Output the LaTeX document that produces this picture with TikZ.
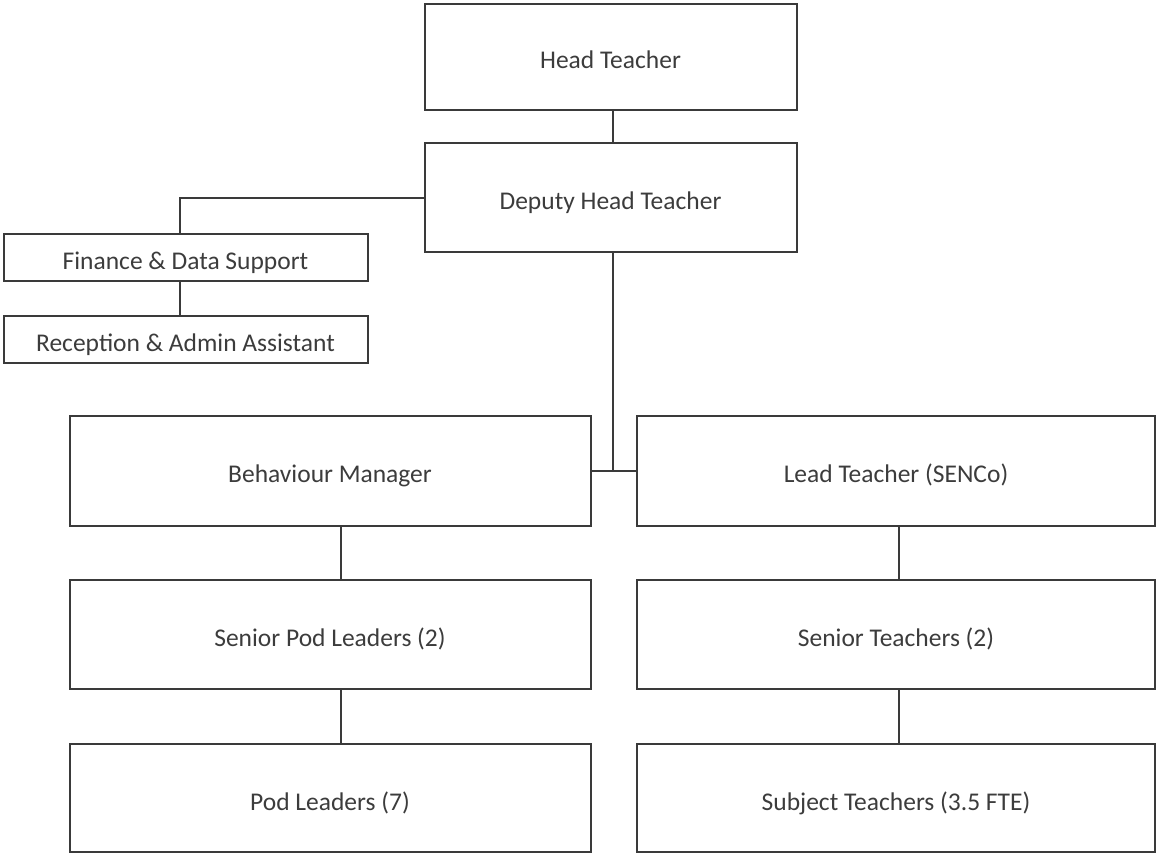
\documentclass[tikz,border=0pt]{standalone}
\usepackage{fontspec}
\setmainfont{Carlito}
\begin{document}
\begin{tikzpicture}[x=1pt,y=-1pt,
  box/.style={draw=linec, line width=2pt, rectangle, inner sep=0pt, text height=24pt, text depth=0pt, text=textc, font=\fontsize{25.5}{28}\selectfont},
  conn/.style={draw=linec, line width=2pt}]
\definecolor{linec}{HTML}{3A3A3A}
\definecolor{textc}{HTML}{3C3C3C}
\useasboundingbox (0,0) rectangle (1157,856);
\node[box, minimum width=372pt, minimum height=106pt] (head) at (610.5,57) {Head Teacher};
\node[box, minimum width=372pt, minimum height=109pt] (dep) at (610.5,197.5) {Deputy Head Teacher};
\node[box, minimum width=364pt, minimum height=47pt] (fin) at (185.5,257) {Finance \& Data Support};
\node[box, minimum width=364pt, minimum height=47pt] (rec) at (185.5,339) {Reception \& Admin Assistant};
\node[box, minimum width=521pt, minimum height=110pt] (bm) at (330,470.5) {Behaviour Manager};
\node[box, minimum width=518pt, minimum height=110pt] (lead) at (896,470.5) {Lead Teacher (SENCo)};
\node[box, minimum width=521pt, minimum height=109pt] (spl) at (330,634.5) {Senior Pod Leaders (2)};
\node[box, minimum width=518pt, minimum height=109pt] (st) at (896,634.5) {Senior Teachers (2)};
\node[box, minimum width=521pt, minimum height=108pt] (pl) at (330,798) {Pod Leaders (7)};
\node[box, minimum width=518pt, minimum height=108pt] (subj) at (896,798) {Subject Teachers (3.5 FTE)};
\draw[conn] ([xshift=2.5pt]head.south) -- ([xshift=2.5pt]dep.north);
\draw[conn] (dep.west) -| ([xshift=-5.5pt]fin.north);
\draw[conn] ([xshift=-5.5pt]fin.south) -- ([xshift=-5.5pt]rec.north);
\draw[conn] ([xshift=2.5pt]dep.south) -- ([xshift=2.5pt]dep.south |- bm.east);
\draw[conn] (bm.east) -- (lead.west);
\draw[conn] ([xshift=11pt]bm.south) -- ([xshift=11pt]spl.north);
\draw[conn] ([xshift=11pt]spl.south) -- ([xshift=11pt]pl.north);
\draw[conn] ([xshift=2.5pt]lead.south) -- ([xshift=2.5pt]st.north);
\draw[conn] ([xshift=2.5pt]st.south) -- ([xshift=2.5pt]subj.north);
\end{tikzpicture}
\end{document}
